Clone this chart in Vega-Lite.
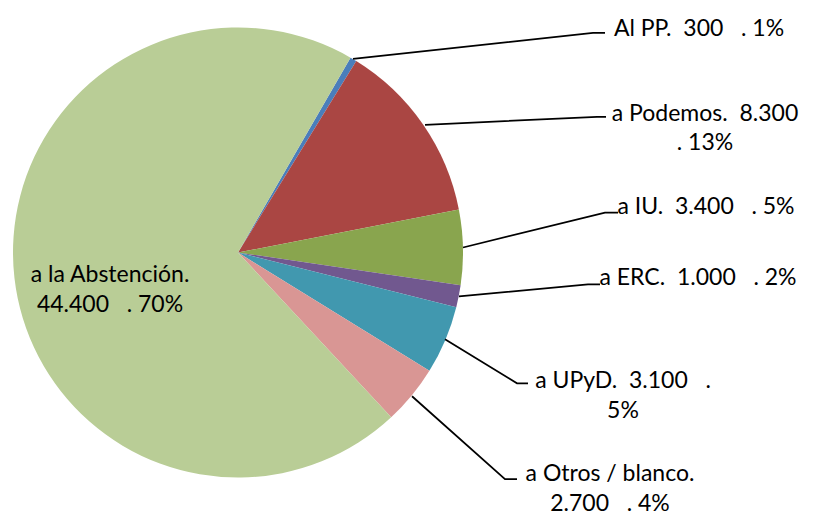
{
  "$schema": "https://vega.github.io/schema/vega-lite/v6.json",
  "width": 813,
  "height": 516,
  "autosize": {"type": "fit", "contains": "padding"},
  "padding": 0,
  "background": "white",
  "config": {"view": {"stroke": null}},
  "datasets": {
    "votes": [
      {"idx": 1, "cat": "Al PP", "value": 300},
      {"idx": 2, "cat": "a Podemos", "value": 8300},
      {"idx": 3, "cat": "a IU", "value": 3400},
      {"idx": 4, "cat": "a ERC", "value": 1000},
      {"idx": 5, "cat": "a UPyD", "value": 3100},
      {"idx": 6, "cat": "a Otros / blanco", "value": 2700},
      {"idx": 7, "cat": "a la Abstención", "value": 44400}
    ],
    "leaders": [
      {"cat": "Al PP", "seq": 1, "px": 353, "py": 59},
      {"cat": "Al PP", "seq": 2, "px": 593, "py": 33},
      {"cat": "Al PP", "seq": 3, "px": 605, "py": 33},
      {"cat": "a Podemos", "seq": 1, "px": 425, "py": 125},
      {"cat": "a Podemos", "seq": 2, "px": 597, "py": 117},
      {"cat": "a Podemos", "seq": 3, "px": 606, "py": 117},
      {"cat": "a IU", "seq": 1, "px": 463, "py": 248},
      {"cat": "a IU", "seq": 2, "px": 605, "py": 213},
      {"cat": "a IU", "seq": 3, "px": 618, "py": 213},
      {"cat": "a ERC", "seq": 1, "px": 459, "py": 297},
      {"cat": "a ERC", "seq": 2, "px": 588, "py": 285},
      {"cat": "a ERC", "seq": 3, "px": 600, "py": 285},
      {"cat": "a UPyD", "seq": 1, "px": 445, "py": 340},
      {"cat": "a UPyD", "seq": 2, "px": 517, "py": 384},
      {"cat": "a UPyD", "seq": 3, "px": 528, "py": 384},
      {"cat": "a Otros / blanco", "seq": 1, "px": 412, "py": 397},
      {"cat": "a Otros / blanco", "seq": 2, "px": 505, "py": 480},
      {"cat": "a Otros / blanco", "seq": 3, "px": 517, "py": 480}
    ],
    "labels": [
      {"label": "Al PP.\u00a0 300 \u00a0 . 1%", "lx": 699, "ly": 36},
      {"label": "a Podemos.\u00a0 8.300\n. 13%", "lx": 705, "ly": 121},
      {"label": "a IU.\u00a0 3.400 \u00a0 . 5%", "lx": 706, "ly": 214},
      {"label": "a ERC.\u00a0 1.000 \u00a0 . 2%", "lx": 698, "ly": 286},
      {"label": "a UPyD.\u00a0 3.100 \u00a0 .\n5%", "lx": 623, "ly": 389},
      {"label": "a Otros / blanco.\n2.700 \u00a0 . 4%", "lx": 610, "ly": 482},
      {"label": "a la Abstención.\n44.400 \u00a0 . 70%", "lx": 110, "ly": 283}
    ]
  },
  "layer": [
    {
      "data": {"name": "votes"},
      "mark": {"type": "arc", "outerRadius": 225},
      "encoding": {
        "x": {"datum": 238, "type": "quantitative", "scale": {"domain": [0, 813], "nice": false, "zero": false}, "axis": null},
        "y": {"datum": 253, "type": "quantitative", "scale": {"domain": [0, 516], "nice": false, "zero": false, "reverse": true}, "axis": null},
        "theta": {"field": "value", "type": "quantitative", "stack": true, "scale": {"range": [0.5236, 6.8068]}},
        "order": {"field": "idx", "type": "quantitative"},
        "color": {
          "field": "cat", "type": "nominal", "legend": null,
          "scale": {
            "domain": ["Al PP", "a Podemos", "a IU", "a ERC", "a UPyD", "a Otros / blanco", "a la Abstención"],
            "range": ["#4A7EBB", "#AA4643", "#89A54E", "#71588F", "#4198AF", "#D99694", "#B9CD96"]
          }
        }
      }
    },
    {
      "data": {"name": "leaders"},
      "mark": {"type": "line", "color": "black", "strokeWidth": 1.75},
      "encoding": {
        "x": {"field": "px", "type": "quantitative"},
        "y": {"field": "py", "type": "quantitative"},
        "detail": {"field": "cat"},
        "order": {"field": "seq", "type": "quantitative"}
      }
    },
    {
      "data": {"name": "labels"},
      "mark": {"type": "text", "align": "center", "baseline": "alphabetic", "font": "Lato", "fontSize": 23, "lineHeight": 29.5, "lineBreak": "\n", "color": "black"},
      "encoding": {
        "x": {"field": "lx", "type": "quantitative"},
        "y": {"field": "ly", "type": "quantitative"},
        "text": {"field": "label"}
      }
    }
  ]
}
